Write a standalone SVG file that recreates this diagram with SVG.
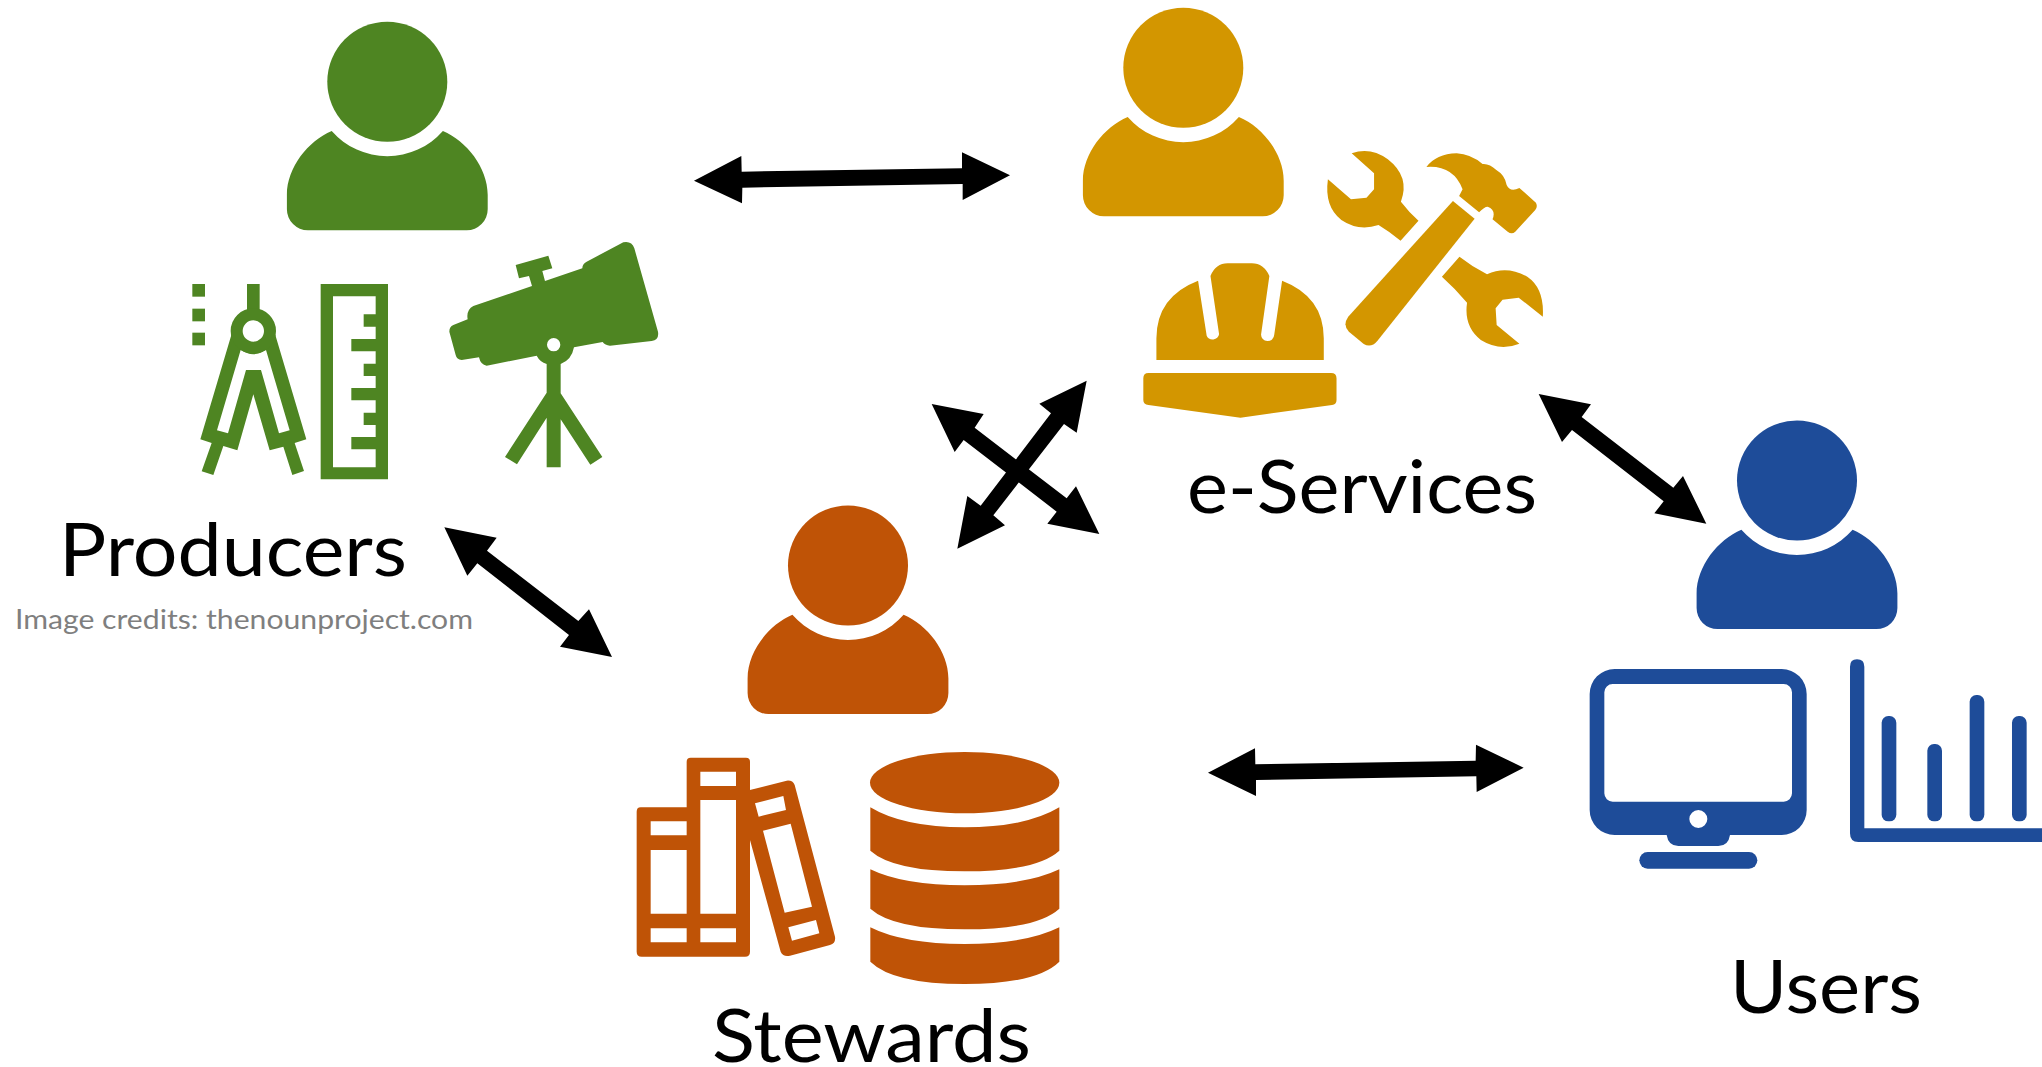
<svg xmlns="http://www.w3.org/2000/svg" width="2042" height="1067" viewBox="0 0 2042 1067">
<style>
.lbl{font-family:"Lato","Open Sans","Liberation Sans",sans-serif;font-size:74px;fill:#000}
.cr{font-family:"Lato","Open Sans","Liberation Sans",sans-serif;font-size:27px;fill:#7f7f7f}
.g{fill:#4e8522}.y{fill:#d39600}.o{fill:#bf5306}.b{fill:#1e4c99}
.z{fill-rule:evenodd}
</style>
<defs>
<g id="person">
<circle cx="0" cy="0" r="60"/>
<path d="M-55.6,49.3A74,74 0 0 0 55.6,49.3C79,59 100.4,86 100.4,113V127.5A21,21 0 0 1 79.4,148.6H-79.4A21,21 0 0 1 -100.4,127.5V113C-100.4,86 -79,59 -55.6,49.3Z"/>
</g>
</defs>
<rect width="2042" height="1067" fill="#fff"/>
<g id="connectors" fill="#000">
<polygon transform="translate(680 140) scale(.33333)" points="42,122 184,48 185,95 846,85 846,37 990,106 848,180 848,132 187,143 186,190"/>
<polygon transform="translate(1200 735) scale(.33333)" points="24,113 165,40 166,88 827,77 828,29 971,98 830,171 829,124 168,135 168,183"/>
<polygon transform="translate(430 510) scale(.33333)" points="43,52 200,83 171,122 445,333 477,298 546,441 390,410 417,375 142,160 112,197"/>
<polygon transform="translate(1530 385) scale(.33333)" points="26,27 183,58 155,96 430,308 459,273 529,416 373,385 401,349 126,135 96,171"/>
<polygon transform="translate(900 360) scale(.33333)" points="560,62 530,218 492,192 280,466 315,496 172,566 202,408 242,437 453,160 418,131"/>
<polygon transform="translate(900 360) scale(.33333)" points="95,132 251,162 224,203 500,415 528,379 598,522 442,491 470,455 191,240 164,276"/>
</g>
<g id="producers" class="g">
<use href="#person" x="387.3" y="81.7"/>
<g transform="translate(170 0) scale(.33333)">
<rect x="67" y="852" width="38" height="38"/><rect x="67" y="926" width="38" height="38"/><rect x="67" y="998" width="38" height="38"/>
<rect x="231" y="852" width="38" height="85"/>
<path class="z" d="M184,1005L91,1318L125,1329L95,1414L130,1425L160,1338L202,1351L250,1183L299,1351L340,1340L367,1425L402,1413L374,1329L409,1318L316,1005ZM212,1050Q250,1075 288,1050L359,1291L327,1300L273,1110H228L174,1300L141,1291Z"/>
<circle cx="250" cy="993" r="50" fill="#fff" stroke="#4e8522" stroke-width="36"/>
<path d="M452,852H654V1438H452ZM489,889V1402H617V1348H544V1311H617V1275H581V1238H617V1201H544V1164H617V1128H581V1091H617V1054H544V1017H617V980H581V943H617V889Z"/>
<path class="z" d="M1250,785L1360,727Q1385,722 1393,745L1464,995Q1468,1020 1445,1023L1320,1037Q1305,1036 1298,1026L1212,1042Q1205,1080 1172,1092V1180L1297,1371L1261,1394L1172,1258V1402H1130V1253L1041,1393L1005,1371L1130,1178V1092Q1110,1086 1100,1067L950,1097Q932,1095 927,1072L875,1080Q860,1078 857,1065L838,995Q838,980 850,975L893,958Q888,930 910,918L1086,858L1077,828L1047,835L1037,795L1135,767L1147,805L1117,813L1125,843L1237,805Q1237,792 1250,785ZM1131,1034a20,20 0 1 0 40,0a20,20 0 1 0 -40,0Z"/>
</g>
<text class="lbl" x="59" y="576" textLength="348" lengthAdjust="spacingAndGlyphs">Producers</text>
<text class="cr" x="15" y="629" textLength="458" lengthAdjust="spacingAndGlyphs">Image credits: thenounproject.com</text>
</g>
<g id="e-services" class="y">
<use href="#person" x="1183.3" y="67.7"/>
<g transform="translate(1040 0) scale(.34439 .33333)">
<path d="M459,842Q338,890 338,1015V1080H824V1015Q824,890 703,842L680,1005A19,19 0 0 1 642,1003L666,828Q650,790 615,790H545Q510,790 495,828L520,1003A19,19 0 0 1 484,1007Z"/>
<path d="M315,1119H845Q861,1119 861,1135V1200Q861,1213 848,1215L582,1253L315,1215Q300,1213 300,1200V1135Q300,1119 315,1119Z"/>
<path d="M905,460Q960,440 1010,478Q1075,530 1048,605Q1070,635 1099,662L1047,722Q1015,695 983,675Q925,695 875,660Q825,620 836,538L903,598L948,593L970,568V520Z"/>
<path d="M1218,770Q1255,800 1298,823Q1355,795 1415,830Q1465,865 1460,950L1390,893L1343,899L1323,925L1326,975L1392,1031Q1335,1055 1280,1020Q1230,980 1240,908Q1205,865 1167,830Z"/>
<path d="M1199,603L1262,656L980,1022Q962,1045 940,1032L897,995Q878,975 895,950Z"/>
<path d="M1122,501Q1150,462 1210,460Q1250,462 1285,492Q1305,490 1325,510Q1350,525 1355,555Q1365,578 1392,564L1440,608Q1446,620 1438,630L1380,695Q1370,705 1358,695L1314,658Q1325,630 1300,620Q1290,620 1275,637L1217,588L1227,568Q1200,495 1122,501Z"/>
</g>
<text class="lbl" x="1187" y="513" textLength="350" lengthAdjust="spacingAndGlyphs">e-Services</text>
</g>
<g id="stewards" class="o">
<use href="#person" x="848" y="565.5"/>
<g transform="translate(620 730) scale(.33333)">
<path class="z" d="M62,232H200V95Q200,83 212,83H378Q390,83 390,95V180L500,152Q518,150 524,165L645,620Q648,640 630,645L510,677Q490,682 482,665L390,330V665Q390,680 375,680H65Q50,680 50,665V245Q50,232 62,232ZM92,274V316H200V274ZM92,360V551H200V360ZM92,595V637H200V595ZM241,125V168H348V125ZM241,210V551H348V210ZM241,595V637H348V595ZM405,220L416,260L498,240L490,198ZM429,302L494,548L576,530L512,281ZM505,592L516,632L598,610L588,570Z"/>
<ellipse cx="1034" cy="158" rx="284" ry="92"/>
<path d="M751,232Q850,292 1034,292Q1218,292 1318,232V362Q1250,424 1034,424Q820,424 751,362Z"/>
<path d="M751,418Q850,466 1034,466Q1218,466 1318,418V536Q1250,598 1034,598Q820,598 751,536Z"/>
<path d="M751,592Q850,642 1034,642Q1218,642 1318,592V695Q1250,762 1034,762Q820,762 751,695Z"/>
</g>
<text class="lbl" x="712" y="1062" textLength="319" lengthAdjust="spacingAndGlyphs">Stewards</text>
</g>
<g id="users" class="b">
<use href="#person" x="1797" y="480.5"/>
<g transform="translate(1560 640) scale(.33333)">
<path class="z" d="M164,87H665A75,75 0 0 1 740,162V510A75,75 0 0 1 665,585H510Q505,618 475,618H355Q325,618 320,585H164A75,75 0 0 1 89,510V162A75,75 0 0 1 164,87ZM158,132A25,25 0 0 0 133,157V460A25,25 0 0 0 158,485H671A25,25 0 0 0 696,460V157A25,25 0 0 0 671,132ZM388,537a27,27 0 1 0 54,0a27,27 0 1 0 -54,0Z"/>
<rect x="238" y="636" width="354" height="50" rx="25"/>
<path d="M870,80V580Q870,606 895,606H1446V565H913V80Q913,58 891,58Q870,58 870,80Z"/>
<rect x="965" y="228" width="44" height="316" rx="20"/>
<rect x="1102" y="312" width="44" height="232" rx="20"/>
<rect x="1229" y="165" width="44" height="379" rx="20"/>
<rect x="1356" y="228" width="44" height="316" rx="20"/>
</g>
<text class="lbl" x="1730" y="1013" textLength="192" lengthAdjust="spacingAndGlyphs">Users</text>
</g>
</svg>
